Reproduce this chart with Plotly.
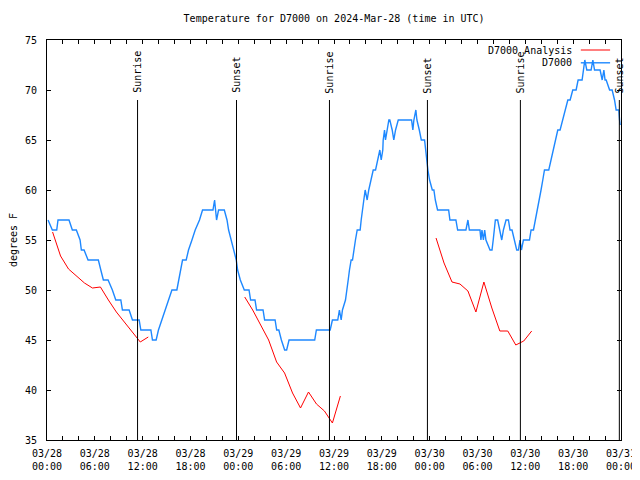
import datetime as dt
import plotly.graph_objects as go

BASE = dt.datetime(2024, 3, 28)

# Observed D7000 temperature (hours after 03/28 00:00 UTC, degrees F)
obs_hours = [0.13, 0.67, 1.22, 1.38, 2.76, 3.18, 3.68, 4.15, 4.31, 4.65, 5.15, 6.44, 6.75, 7.07, 7.66,
             8.2, 8.63, 9.26, 9.46, 10.3, 10.72, 11.56, 11.77, 13.03, 13.23, 13.69, 13.98, 14.41, 14.82,
             15.24, 15.67, 16.29, 16.5, 16.71, 17.0, 17.46, 17.75, 18.18, 18.59, 19.13, 19.51, 20.82,
             21.02, 21.27, 21.52, 22.24, 22.58, 22.78, 23.08, 23.4, 23.74, 23.91, 24.25, 24.75, 25.34,
             25.54, 26.09, 26.29, 27.1, 27.3, 28.61, 28.81, 29.08, 29.4, 29.81, 30.06, 30.36, 33.58,
             33.79, 35.52, 35.8, 36.47, 36.68, 36.9, 37.06, 37.44, 37.65, 37.78, 37.94, 38.15, 38.32,
             38.48, 38.69, 38.91, 39.28, 39.41, 39.53, 39.74, 39.91, 40.16, 40.36, 40.67, 40.92, 41.21,
             41.5, 41.75, 41.92, 42.12, 42.17, 42.34, 42.46, 42.68, 42.88, 43.0, 43.3, 43.5, 43.72,
             44.06, 45.73, 45.89, 46.02, 46.27, 46.4, 46.7, 46.95, 47.36, 47.49, 47.61, 47.78, 47.99,
             48.33, 48.53, 48.71, 48.99, 50.38, 50.54, 51.29, 51.51, 52.55, 52.8, 52.98, 54.31, 54.43,
             54.56, 54.74, 54.9, 55.06, 55.57, 55.82, 55.97, 56.24, 56.53, 56.82, 57.04, 57.25, 57.58,
             57.88, 58.08, 58.33, 58.63, 58.92, 59.13, 59.33, 59.51, 59.76, 60.52, 60.72, 61.02, 61.27,
             61.56, 61.77, 61.97, 62.19, 62.4, 62.94, 63.23, 63.53, 63.78, 64.07, 64.36, 64.7, 65.04,
             65.33, 65.62, 65.95, 66.37, 66.62, 67.12, 67.3, 67.46, 67.71, 68.25, 68.47, 68.68, 69.38,
             69.64, 69.85, 70.0, 70.14, 70.57, 70.89, 71.19, 71.39, 71.73, 71.82, 71.9]
obs_temps = [57, 56, 56, 57, 57, 56, 56, 55, 54, 54, 53, 53, 52, 51, 51,
             50, 49, 49, 48, 48, 47, 47, 46, 46, 45, 45, 46, 47, 48,
             49, 50, 50, 51, 52, 53, 53, 54, 55, 56, 57, 58, 58,
             59, 57, 58, 58, 57, 56, 55, 54, 53, 52, 51, 50, 50,
             49, 49, 48, 48, 47, 47, 46, 46, 45, 44, 44, 45, 45,
             46, 46, 47, 47, 48, 47, 48, 49, 50, 51, 52, 53, 53,
             54, 55, 56, 56, 57, 58, 59, 60, 59, 60, 61, 62, 62,
             63, 64, 63, 64, 65, 66, 65, 66, 67, 67, 66, 65, 66,
             67, 67, 66, 67, 68, 67, 66, 65, 65, 64, 63, 62, 61,
             60, 60, 59, 58, 58, 57, 57, 56, 56, 57, 56, 56, 55,
             56, 55, 56, 55, 54, 54, 55, 57, 57, 56, 55, 56, 57,
             57, 56, 56, 55, 54, 54, 55, 54, 55, 55, 56, 56, 57,
             58, 59, 60, 61, 62, 62, 63, 64, 65, 66, 66, 67, 68,
             69, 69, 70, 70, 71, 71, 72, 73, 72, 72, 73, 72, 72,
             71, 72, 71, 71, 70, 70, 69, 68, 68, 67, 66.5]

# D7000 Analysis (gaps between the three runs)
ana_hours = [0.7, 1.7, 2.7, 3.7, 4.7, 5.7, 6.7, 7.7, 8.7, 9.7, 10.7, 11.7, 12.7, None,
             24.8, 25.8, 26.8, 27.8, 28.8, 29.8, 30.8, 31.8, 32.8, 33.8, 34.8, 35.8, 36.8, None,
             48.8, 49.8, 50.8, 51.8, 52.8, 53.8, 54.8, 55.8, 56.8, 57.8, 58.8, 59.8, 60.8]
ana_temps = [55.8, 53.4, 52.1, 51.4, 50.7, 50.2, 50.3, 49.0, 47.8, 46.8, 45.8, 44.8, 45.3, None,
             49.3, 48.0, 46.5, 45.0, 42.8, 41.7, 39.7, 38.2, 39.8, 38.6, 37.9, 36.7, 39.4, None,
             55.2, 52.7, 50.8, 50.6, 49.9, 47.8, 50.8, 48.2, 45.9, 45.9, 44.5, 44.9, 45.9]

# Sun events (hours after 03/28 00:00 UTC)
event_hours = [11.36, 23.77, 35.43, 47.72, 59.38, 71.79]
event_labels = ["Sunrise", "Sunset", "Sunrise", "Sunset", "Sunrise", "Sunset"]

legend_names = ["D7000 Analysis", "D7000"]
legend_colors = ["#ff0000", "#1e88ff"]


def to_time(h):
    return None if h is None else BASE + dt.timedelta(hours=h)


FONT = "DejaVu Sans Mono"

fig = go.Figure()
fig.add_trace(go.Scatter(x=[to_time(h) for h in ana_hours], y=ana_temps, mode="lines",
                         line=dict(color=legend_colors[0], width=1), name=legend_names[0],
                         connectgaps=False))
fig.add_trace(go.Scatter(x=[to_time(h) for h in obs_hours], y=obs_temps, mode="lines",
                         line=dict(color=legend_colors[1], width=1.4), name=legend_names[1]))

shapes = []
annotations = []
for h, lab in zip(event_hours, event_labels):
    t = to_time(h)
    shapes.append(dict(type="line", xref="x", yref="paper", x0=t, x1=t, y0=0, y1=0.85,
                       line=dict(color="black", width=1)))
    annotations.append(dict(x=t, y=0.862, xref="x", yref="paper", text=lab, textangle=-90,
                            showarrow=False, xanchor="center", yanchor="bottom",
                            font=dict(family=FONT, size=10, color="black")))

# gnuplot-style key: text right-aligned, sample line to its right
for i, (name, col) in enumerate(zip(legend_names, legend_colors)):
    yy = 0.975 - i * 0.032
    annotations.append(dict(x=0.918, y=yy, xref="paper", yref="paper", text=name,
                            showarrow=False, xanchor="right", yanchor="middle",
                            font=dict(family=FONT, size=10, color="black")))
    shapes.append(dict(type="line", xref="paper", yref="paper", x0=0.930, x1=0.981, y0=yy, y1=yy,
                       line=dict(color=col, width=1.4 if i else 1)))

# the page places the figure 8px in from the top-left corner
fig.update_layout(
    width=632, height=472,
    margin=dict(l=39, r=19, t=32, b=40, autoexpand=False),
    paper_bgcolor="white", plot_bgcolor="white",
    showlegend=False,
    title=dict(text="Temperature for D7000 on 2024-Mar-28 (time in UTC)", x=0.516, xanchor="center",
               y=0.977, yanchor="middle", font=dict(family=FONT, size=10, color="black")),
    font=dict(family=FONT, size=10, color="black"),
    shapes=shapes, annotations=annotations,
)
fig.update_xaxes(
    type="date", range=[BASE, BASE + dt.timedelta(days=3)], automargin=False,
    tick0=BASE, dtick=6 * 3600 * 1000, tickformat="%m/%d<br>%H:%M",
    ticks="inside", ticklen=4, tickcolor="black",
    minor=dict(dtick=2 * 3600 * 1000, ticks="inside", ticklen=4, tickcolor="black"),
    showline=True, linecolor="black", linewidth=1, mirror="ticks",
    showgrid=False, zeroline=False, ticklabelstandoff=4,
    tickfont=dict(family=FONT, size=10, color="black"),
)
fig.update_yaxes(
    range=[35, 75], dtick=5, tick0=35, automargin=False,
    ticks="inside", ticklen=4, tickcolor="black",
    showline=True, linecolor="black", linewidth=1, mirror="ticks",
    showgrid=False, zeroline=False, ticklabelstandoff=7,
    title=dict(text="degrees F", standoff=10, font=dict(family=FONT, size=10, color="black")),
    tickfont=dict(family=FONT, size=10, color="black"),
)

fig.write_html("out.html")
